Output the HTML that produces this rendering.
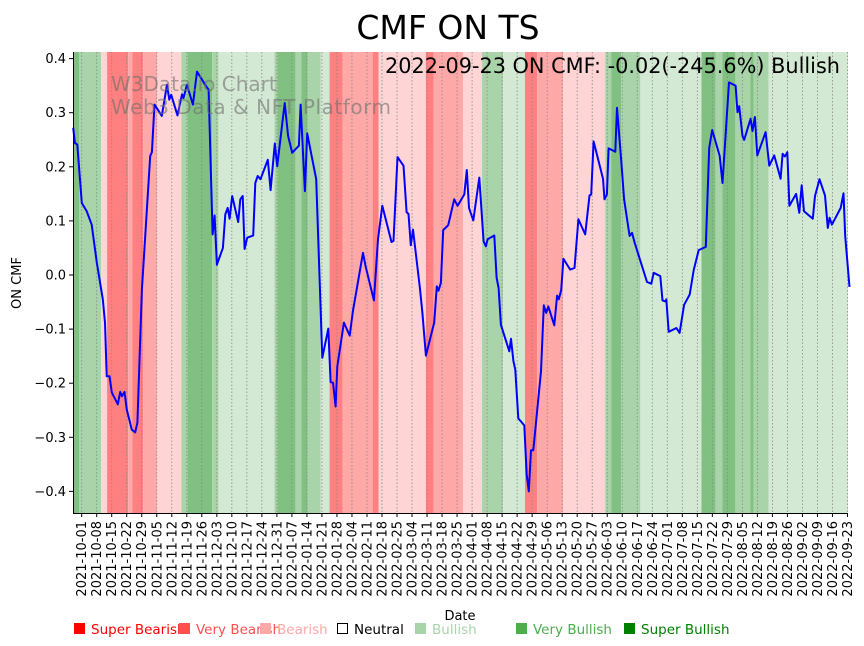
<!DOCTYPE html>
<html><head><meta charset="utf-8"><style>
body{margin:0;background:#fff;}
svg{display:block;font-family:"DejaVu Sans","Liberation Sans",sans-serif;}
</style></head><body>
<svg id="chart" width="864" height="646" viewBox="0 0 864 646" xmlns="http://www.w3.org/2000/svg">
<text x="448" y="39" font-size="33" text-anchor="middle" fill="#000">CMF ON TS</text>
<g id="plot"></g>
<text transform="translate(21,283) rotate(-90)" font-size="13" text-anchor="middle">ON CMF</text>
<text x="460" y="620" font-size="13" text-anchor="middle">Date</text>
<g font-size="13.5">
 <g><rect x="74" y="623" width="11" height="11" fill="#ff0000"/><text x="91" y="634" fill="#ff0000">Super Bearish</text></g>
 <g><rect x="179" y="623" width="11" height="11" fill="#ff5050"/><text x="196" y="634" fill="#ff5050">Very Bearish</text></g>
 <g><rect x="260" y="623" width="11" height="11" fill="#ffa8a8"/><text x="277" y="634" fill="#ffa8a8">Bearish</text></g>
 <g><rect x="337.5" y="623.5" width="10" height="10" fill="none" stroke="#000"/><text x="354" y="634" fill="#000">Neutral</text></g>
 <g><rect x="415" y="623" width="11" height="11" fill="#a9d4a9"/><text x="432" y="634" fill="#a9d4a9">Bullish</text></g>
 <g><rect x="516" y="623" width="11" height="11" fill="#4caf4c"/><text x="533" y="634" fill="#4caf4c">Very Bullish</text></g>
 <g><rect x="624" y="623" width="11" height="11" fill="#008000"/><text x="641" y="634" fill="#008000">Super Bullish</text></g>
</g>
</svg>
<script>
// band data: start day, end day, level (-3..3)
const bandStarts=[-2.8,0,10.3,13.1,22.9,24.8,29.9,36.4,47.7,50.5,62.1,65,91.1,92.5,100.9,103.7,106.5,112.6,116.8,122.9,136.9,139.7,161.7,165.4,179,187.9,197.7,207.9,213.6,225.7,245.3,248.1,252.8,261.7,290.2,296.7,300,306,313,314.5,321.5];
const bandEnds=[0,10.3,13.1,22.9,24.8,29.9,36.4,47.7,50.5,62.1,65,91.1,92.5,100.9,103.7,106.5,112.6,116.8,122.9,136.9,139.7,161.7,165.4,179,187.9,197.7,207.9,213.6,225.7,245.3,248.1,252.8,261.7,290.2,296.7,300,306,313,314.5,321.5,360];
const bandLevels=[3,2,-1,-3,-2,-3,-2,-1,2,3,2,1,2,3,2,3,2,1,-3,-2,-3,-1,-3,-2,-1,2,1,-3,-2,-1,2,3,2,1,3,2,3,2,3,2,1];
// line data
const days=[-2.7,-1.9,-0.8,1.3,3.6,5.9,8.3,11.1,12.1,12.9,14.2,15.3,18.1,19.2,20,21.2,22.3,24.6,26.2,27.2,29.3,33.2,34,35.2,38.6,41,42.1,43,45.9,48,48.7,50.3,53.1,55,59.7,60.4,62.3,63.2,64.3,67.1,68.2,69.3,70.2,71.4,74.2,75.2,76.3,77.2,78.4,81.2,82.2,83.3,84.6,88,89.3,91.3,92.4,95.9,97.5,99.4,102.5,103.3,105.3,106.4,110.6,113.4,116.2,117.3,118.4,119.6,120.4,123.5,126.2,127.7,132.4,133.6,137.5,139.4,141.4,145.7,146.6,148.5,151.3,152.7,153.6,154.7,155.7,158.9,160.1,161.7,165.6,166.8,167.6,168.7,169.8,172.1,174.9,176.5,179.6,180.8,181.8,183.8,186.6,188.6,189.7,190.5,193.6,194.7,195.6,196.7,200.6,201.4,202.5,203.4,204.8,207.6,208.7,209.7,210.7,211.8,215.4,216.7,217.8,218.8,221.6,222.9,223.7,224.8,225.8,229,231,232.8,236,238,238.8,239.9,244.3,245,246.1,246.9,250,250.8,252.8,254.1,256.7,257.8,259,264.8,266.8,267.9,271,272,273.5,273.8,274.9,278.5,280,282.1,284.7,286.6,288.9,292.2,293.8,295.2,298.7,300,303,306.1,307,307.8,309.3,310.1,313.1,314,315.1,316.2,320.1,321.8,324.1,327.1,328,329.1,330.2,331.2,334.3,335.8,336.9,338,342.1,343.1,345.2,347.8,349.1,349.9,351,355.1,356.4,357.2,359.2];
const cmf=[0.272,0.244,0.241,0.133,0.118,0.093,0.023,-0.045,-0.088,-0.187,-0.187,-0.217,-0.239,-0.216,-0.224,-0.216,-0.249,-0.286,-0.291,-0.273,-0.027,0.220,0.227,0.315,0.294,0.352,0.324,0.333,0.295,0.334,0.327,0.352,0.315,0.376,0.346,0.343,0.075,0.110,0.019,0.050,0.112,0.124,0.104,0.146,0.098,0.140,0.146,0.048,0.069,0.073,0.170,0.183,0.177,0.213,0.157,0.243,0.201,0.318,0.257,0.226,0.239,0.315,0.155,0.262,0.177,-0.153,-0.099,-0.198,-0.199,-0.243,-0.169,-0.088,-0.112,-0.067,0.041,0.016,-0.047,0.066,0.128,0.061,0.063,0.218,0.202,0.116,0.113,0.055,0.084,-0.024,-0.070,-0.149,-0.088,-0.021,-0.029,-0.014,0.083,0.092,0.140,0.128,0.149,0.194,0.124,0.101,0.180,0.062,0.053,0.066,0.073,-0.005,-0.024,-0.092,-0.141,-0.118,-0.159,-0.175,-0.265,-0.278,-0.369,-0.400,-0.324,-0.324,-0.178,-0.056,-0.070,-0.058,-0.093,-0.038,-0.045,-0.028,0.030,0.010,0.013,0.103,0.075,0.147,0.149,0.247,0.178,0.140,0.149,0.234,0.228,0.309,0.210,0.140,0.072,0.078,0.060,-0.013,-0.016,0.004,-0.002,-0.047,-0.049,-0.045,-0.105,-0.098,-0.107,-0.055,-0.036,0.010,0.046,0.052,0.235,0.268,0.220,0.170,0.356,0.350,0.301,0.312,0.257,0.250,0.289,0.266,0.292,0.221,0.264,0.202,0.221,0.178,0.224,0.219,0.227,0.128,0.150,0.115,0.166,0.118,0.104,0.146,0.177,0.147,0.087,0.106,0.093,0.124,0.151,0.072,-0.022];
const tickLabels=["2021-10-01","2021-10-08","2021-10-15","2021-10-22","2021-10-29","2021-11-05","2021-11-12","2021-11-19","2021-11-26","2021-12-03","2021-12-10","2021-12-17","2021-12-24","2021-12-31","2022-01-07","2022-01-14","2022-01-21","2022-01-28","2022-02-04","2022-02-11","2022-02-18","2022-02-25","2022-03-04","2022-03-11","2022-03-18","2022-03-25","2022-04-01","2022-04-08","2022-04-15","2022-04-22","2022-04-29","2022-05-06","2022-05-13","2022-05-20","2022-05-27","2022-06-03","2022-06-10","2022-06-17","2022-06-24","2022-07-01","2022-07-08","2022-07-15","2022-07-22","2022-07-29","2022-08-05","2022-08-12","2022-08-19","2022-08-26","2022-09-02","2022-09-09","2022-09-16","2022-09-23"];
const yTicks=[-0.4,-0.3,-0.2,-0.1,0.0,0.1,0.2,0.3,0.4];

const L=73,R=848,T=52,B=513,D0=-2.8,D1=358.5;
const xs=d=>L+(d-D0)*(R-L)/(D1-D0);
const ys=v=>275-v*541;
const NS="http://www.w3.org/2000/svg";
const plot=document.getElementById('plot');
function mk(tag,attrs,parent){const e=document.createElementNS(NS,tag);for(const k in attrs)e.setAttribute(k,attrs[k]);(parent||plot).appendChild(e);return e;}
const colors={"3":"#80c080","2":"#a9d4a9","1":"#d4e9d4","-1":"#ffd4d4","-2":"#ffa8a8","-3":"#ff8080"};
bandStarts.forEach((s,i)=>{
  const a=Math.max(L,xs(s)),b=Math.min(R,xs(bandEnds[i]));
  const r=mk('rect',{x:a,y:T,width:Math.max(0,b-a),height:B-T,fill:colors[bandLevels[i]]});
  
  
});
tickLabels.forEach((lab,i)=>{
  const x=xs(1.25+7*i);
  const g=mk('line',{x1:x,x2:x,y1:T,y2:B,stroke:"#888",'stroke-width':0.8,'stroke-dasharray':'1.5,2'});
  
  
  const t=mk('line',{x1:x,x2:x,y1:B,y2:B+4,stroke:"#000",'stroke-width':1});
  
  
  const tx=mk('text',{transform:`translate(${x+4.5},${B+8}) rotate(-90)`,'font-size':13,'text-anchor':'end',fill:'#000'});
  tx.textContent=lab;
  
  
});
yTicks.forEach(v=>{
  const y=ys(v);
  const t=mk('line',{x1:L-4,x2:L,y1:y,y2:y,stroke:"#000"});
  
  
  const tx=mk('text',{x:L-7,y:y+4.5,'font-size':13,'text-anchor':'end',fill:'#000'});
  tx.textContent=(v<0?"\u2212":"")+Math.abs(v).toFixed(1);
  
  
});
const pts=days.map((d,i)=>xs(d).toFixed(1)+","+ys(cmf[i]).toFixed(1)).join(" ");
const line=mk('polyline',{points:pts,fill:'none',stroke:'#0000ff','stroke-width':2,'stroke-linejoin':'round'});


const ax=mk('path',{d:`M${L+0.5},${T} V${B+0.5} H${R}`,fill:'none',stroke:'#000','stroke-width':1});


const w1=mk('text',{x:111,y:91,'font-size':20,fill:'rgba(110,110,110,0.6)'});
w1.textContent="W3Data.io Chart";


const w2=mk('text',{x:111,y:114,'font-size':20,fill:'rgba(110,110,110,0.6)',textLength:280});
w2.textContent="Web3 Data & NFT Platform";


const an=mk('text',{x:385,y:73,'font-size':21,fill:'#000',textLength:455,lengthAdjust:'spacingAndGlyphs'});
an.textContent="2022-09-23 ON CMF: -0.02(-245.6%) Bullish";


</script>
</body></html>
